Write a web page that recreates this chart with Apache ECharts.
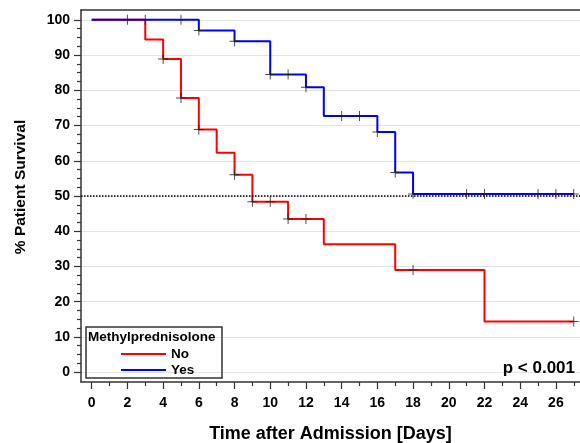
<!DOCTYPE html>
<html lang="en">
<head>
    <meta charset="UTF-8">
    <title>Kaplan-Meier: Methylprednisolone</title>
    <script src="https://cdn.jsdelivr.net/npm/echarts@6/dist/echarts.min.js"></script>
    <style>
        html, body { margin: 0; padding: 0; background: #fff; }
        #container { width: 580px; height: 443px; }
    </style>
</head>
<body>
<div id="container"></div>
<script>
    // survival curve steps (day, % surviving after that day)
    var noTimes = [0, 3, 4, 5, 6, 7, 8, 9, 11, 13, 17, 22, 27];
    var noSurv = [100, 94.4, 88.9, 77.8, 68.9, 62.3, 56.0, 48.4, 43.5, 36.3, 29.0, 14.4, 14.4];
    var yesTimes = [0, 6, 8, 10, 12, 13, 16, 17, 18, 27];
    var yesSurv = [100, 97.0, 93.9, 84.5, 80.9, 72.7, 68.2, 56.7, 50.6, 50.6];

    // censored observations (days)
    var noCensored = [4, 5, 6, 8, 9, 10, 11, 12, 18, 27];
    var yesCensored = [2, 3, 5, 6, 8, 10, 11, 12, 14, 15, 16, 17, 18, 21, 22, 25, 26, 27];

    var xTicks = [0, 2, 4, 6, 8, 10, 12, 14, 16, 18, 20, 22, 24, 26];
    var xMinor = [1, 3, 5, 7, 9, 11, 13, 15, 17, 19, 21, 23, 25, 27];
    var yTicks = [0, 10, 20, 30, 40, 50, 60, 70, 80, 90, 100];
    var yMinor = [2.5, 5, 7.5, 12.5, 15, 17.5, 22.5, 25, 27.5, 32.5, 35, 37.5, 42.5, 45, 47.5,
        52.5, 55, 57.5, 62.5, 65, 67.5, 72.5, 75, 77.5, 82.5, 85, 87.5, 92.5, 95, 97.5];

    var FONT = '"Liberation Sans", Arial, sans-serif';
    var plus = 'path://M4.5,0h1v4.5h4.5v1h-4.5v4.5h-1v-4.5h-4.5v-1h4.5z';

    function pairs(ts, vs) {
        var out = [];
        for (var i = 0; i < ts.length; i++) out.push([ts[i], vs[i]]);
        return out;
    }

    function survAt(ts, vs, t) {
        var v = vs[0];
        for (var i = 0; i < ts.length; i++) {
            if (ts[i] <= t) v = vs[i];
        }
        return v;
    }

    function censorPoints(cens, ts, vs) {
        var out = [];
        for (var i = 0; i < cens.length; i++) out.push([cens[i], survAt(ts, vs, cens[i])]);
        return out;
    }

    var chart = echarts.init(document.getElementById('container'));

    var xMin = -0.6, xMax = 27.35, yMin = -2.8, yMax = 102.8;

    chart.setOption({
        animation: false,
        grid: {left: 81, top: 10, right: 0, bottom: 61, outerBoundsMode: 'none'},
        legend: {
            data: [{name: 'No', icon: 'rect'}, {name: 'Yes', icon: 'rect'}],
            orient: 'vertical',
            left: 116,
            top: 341,
            itemWidth: 45,
            itemHeight: 2,
            itemGap: 0,
            z: 20,
            selectedMode: false,
            textStyle: {fontFamily: FONT, fontWeight: 'bold', fontSize: 13.5, color: '#000', lineHeight: 16}
        },
        xAxis: [{
            type: 'value',
            min: xMin,
            max: xMax,
            name: 'Time after Admission [Days]',
            nameLocation: 'middle',
            nameGap: 43,
            nameTextStyle: {fontFamily: FONT, fontWeight: 'bold', fontSize: 18, color: '#000'},
            axisLine: {onZero: false, lineStyle: {color: '#333', width: 1.5}},
            axisTick: {customValues: xTicks, length: 7, lineStyle: {color: '#333', width: 1.2}},
            axisLabel: {customValues: xTicks, margin: 14, fontFamily: FONT, fontWeight: 'bold', fontSize: 14, color: '#000'},
            splitLine: {show: false}
        }, {
            type: 'value',
            min: xMin,
            max: xMax,
            position: 'bottom',
            axisLine: {show: false, onZero: false},
            axisTick: {customValues: xMinor, length: 4, lineStyle: {color: '#333', width: 1.2}},
            axisLabel: {show: false},
            splitLine: {show: false}
        }, {
            type: 'value',
            min: xMin,
            max: xMax,
            position: 'top',
            axisLine: {onZero: false, lineStyle: {color: '#333', width: 1.5}},
            axisTick: {show: false},
            axisLabel: {show: false},
            splitLine: {show: false}
        }],
        yAxis: [{
            type: 'value',
            min: yMin,
            max: yMax,
            name: '% Patient Survival',
            nameLocation: 'middle',
            nameGap: 52,
            nameTextStyle: {fontFamily: FONT, fontWeight: 'bold', fontSize: 15.5, color: '#000', padding: [0, 0, 0, 18]},
            axisLine: {show: true, onZero: false, lineStyle: {color: '#333', width: 1.5}},
            axisTick: {show: true, customValues: yTicks, length: 7, lineStyle: {color: '#333', width: 1.2}},
            axisLabel: {customValues: yTicks, margin: 11, fontFamily: FONT, fontWeight: 'bold', fontSize: 14, color: '#000'},
            splitLine: {show: true, lineStyle: {color: '#e4e4e4', width: 1}}
        }, {
            type: 'value',
            min: yMin,
            max: yMax,
            position: 'left',
            axisLine: {show: false, onZero: false},
            axisTick: {show: true, customValues: yMinor, length: 4, lineStyle: {color: '#333', width: 1.2}},
            axisLabel: {show: false},
            splitLine: {show: false}
        }],
        series: [{
            name: 'No',
            type: 'line',
            step: 'end',
            data: pairs(noTimes, noSurv),
            showSymbol: false,
            z: 3,
            itemStyle: {color: '#ff0000'},
            lineStyle: {color: '#ff0000', width: 2},
            markLine: {
                silent: true,
                symbol: 'none',
                label: {show: false},
                lineStyle: {color: '#000', type: [1.5, 1.5], width: 1.5},
                data: [{yAxis: 50}]
            }
        }, {
            name: 'Yes',
            type: 'line',
            step: 'end',
            data: pairs(yesTimes, yesSurv),
            showSymbol: false,
            z: 4,
            itemStyle: {color: '#0000ff'},
            lineStyle: {color: '#0000ff', width: 2}
        }, {
            name: 'No censored',
            type: 'scatter',
            data: censorPoints(noCensored, noTimes, noSurv),
            symbol: plus,
            symbolSize: 10,
            z: 5,
            itemStyle: {color: '#222'}
        }, {
            name: 'Yes censored',
            type: 'scatter',
            data: censorPoints(yesCensored, yesTimes, yesSurv),
            symbol: plus,
            symbolSize: 10,
            z: 5,
            itemStyle: {color: '#222'}
        }],
        graphic: [{
            type: 'rect',
            z: 20,
            shape: {x: 86, y: 327, width: 136, height: 51},
            style: {fill: 'none', stroke: '#333', lineWidth: 1.5},
            silent: true
        }, {
            type: 'text',
            z: 20,
            x: 88,
            y: 337,
            style: {
                text: 'Methylprednisolone',
                fontFamily: FONT, fontWeight: 'bold', fontSize: 13.5,
                fill: '#000', verticalAlign: 'middle'
            }
        }, {
            type: 'text',
            z: 20,
            x: 575,
            y: 368,
            style: {
                text: 'p < 0.001',
                fontFamily: FONT, fontWeight: 'bold', fontSize: 17,
                fill: '#000', align: 'right', verticalAlign: 'middle'
            }
        }]
    });
</script>
</body>
</html>
